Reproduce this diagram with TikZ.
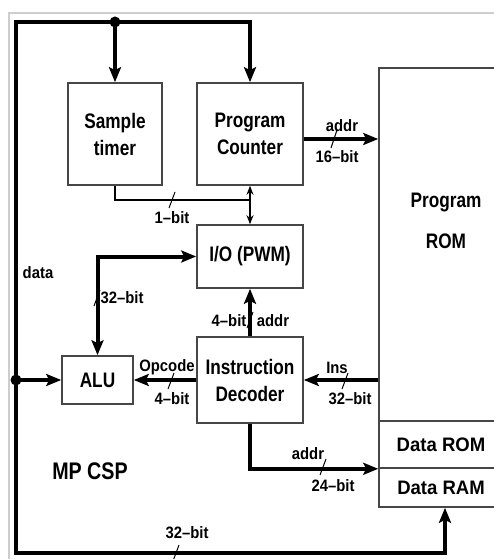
\documentclass[tikz,border=0pt]{standalone}
\usepackage{fontspec}
\setmainfont[FakeStretch=0.82]{Liberation Sans}
\newfontfamily\labelfont[FakeStretch=0.9]{Liberation Sans}
\newfontfamily\memfont[FakeStretch=0.95]{Liberation Sans}
\usetikzlibrary{arrows.meta,positioning}
\definecolor{boxgray}{RGB}{70,70,70}
\definecolor{framegray}{RGB}{205,205,205}

\begin{document}
\begin{tikzpicture}[x=1pt, y=-1pt]
\tikzstyle{block} = [rectangle, draw=boxgray, line width=1.6pt, text centered, align=center, inner sep=0pt, font=\fontsize{21}{27}\selectfont\bfseries]
\tikzstyle{memory} = [block, font=\memfont\fontsize{19.5}{23}\selectfont\bfseries]
\tikzstyle{bus} = [line width=4pt, line join=miter]
\tikzstyle{busarrow} = [bus, -{Stealth[length=15pt, width=12pt, inset=3pt]}]
\tikzstyle{wire} = [line width=1.5pt]
\tikzstyle{lbl} = [inner sep=0pt, font=\labelfont\fontsize{16.5}{19}\selectfont\bfseries]
\tikzstyle{slashmark} = [line width=1pt]
\tikzstyle{joint} = [circle, fill=black, minimum size=11pt, inner sep=0pt]

\clip (0,0) rectangle (494,559);
\draw[framegray, line width=1.2pt] (9,559) -- (9,13) -- (494,13);

% blocks
\node (SampleTimer) [block, minimum width=94pt, minimum height=102pt] at (115,134) {Sample\\timer};
\node (ProgramCounter) [block, minimum width=106pt, minimum height=102pt] at (250,134) {Program\\Counter};
\node (IOPWM) [block, minimum width=106pt, minimum height=63pt] at (250,256.5) {I/O (PWM)};
\node (Decoder) [block, minimum width=106pt, minimum height=86pt] at (250,380) {Instruction\\Decoder};
\node (ALU) [block, minimum width=71pt, minimum height=48pt] at (97.5,380) {ALU};
\node (ProgramROM) [block, minimum width=124pt, minimum height=353pt] at (441,244.5) {};
\node (ROMTop) [font=\fontsize{21}{27}\selectfont\bfseries, anchor=base] at (446,207) {Program};
\node (ROMBottom) [font=\fontsize{21}{27}\selectfont\bfseries, anchor=base] at (446,248) {ROM};
\node (DataROM) [memory, minimum width=124pt, minimum height=47pt] at (441,444.5) {Data ROM};
\node (DataRAM) [memory, minimum width=124pt, minimum height=39pt] at (441,487.5) {Data RAM};
\node (MPCSP) [font=\fontsize{24}{28}\selectfont\bfseries] at (90,471) {MP CSP};

% bus corners
\coordinate (TopDot) at (115,22);
\coordinate (LeftDot) at (16,380);
\coordinate (TopLeft) at (16,22);
\coordinate (BotLeft) at (16,553);
\coordinate (TimerJoin) at (250,200);

% wires
\draw[bus] (TopDot) -- (TopLeft) -- (LeftDot);
\draw[busarrow] (LeftDot) -- (BotLeft) -| ([xshift=4pt]DataRAM.south);
\draw[busarrow] (TopDot) -- (SampleTimer.north);
\draw[busarrow] (TopDot) -| (ProgramCounter.north);
\draw[busarrow] (LeftDot) -- (ALU.west);
\draw[busarrow] ([yshift=-5pt]ProgramCounter.east) -- ([yshift=-5pt]ProgramCounter.east -| ProgramROM.west);
\draw[wire] (SampleTimer.south) |- (TimerJoin);
\draw[wire, {Stealth[length=9pt, width=7pt]}-{Stealth[length=9pt, width=7pt]}] (ProgramCounter.south) -- (IOPWM.north);
\draw[bus, {Stealth[length=15pt, width=12pt, inset=3pt]}-{Stealth[length=15pt, width=12pt, inset=3pt]}] (ALU.north) |- (IOPWM.west);
\draw[busarrow] (Decoder.north) -- (IOPWM.south);
\draw[busarrow] (Decoder.west) -- (ALU.east);
\draw[busarrow] (Decoder.east -| ProgramROM.west) -- (Decoder.east);
\draw[busarrow] (Decoder.south) |- (DataROM.south west);

\node (TopJoint) [joint] at (TopDot) {};
\node (LeftJoint) [joint] at (LeftDot) {};

% bit widths
\draw[slashmark] (334,139) ++(-3,9) -- ++(6,-18);
\draw[slashmark] (172,200) ++(-3,8) -- ++(6,-16);
\draw[slashmark] (97,298) ++(-3,8) -- ++(6,-16);
\draw[slashmark] (250,320) ++(-3,8) -- ++(6,-16);
\draw[slashmark] (171,381) ++(-3,8) -- ++(6,-16);
\draw[slashmark] (345,381) ++(-3,8) -- ++(6,-16);
\draw[slashmark] (323,467) ++(-3,8) -- ++(6,-16);
\draw[slashmark] (176,553) ++(-3,8) -- ++(6,-16);

% labels
\node (AddrPC) [lbl] at (342,126) {addr};
\node (BitsPC) [lbl] at (337,157) {16–bit};
\node (BitsTimer) [lbl] at (172,218) {1–bit};
\node (DataLbl) [lbl] at (38,273) {data};
\node (BitsALU) [lbl] at (122,298) {32–bit};
\node (BitsIO) [lbl] at (229,321) {4–bit};
\node (AddrIO) [lbl] at (273,321) {addr};
\node (OpcodeLbl) [lbl] at (167,367) {Opcode};
\node (BitsOp) [lbl] at (172,399) {4–bit};
\node (InsLbl) [lbl] at (337,368) {Ins};
\node (BitsIns) [lbl] at (350,399) {32–bit};
\node (AddrData) [lbl] at (308,454) {addr};
\node (BitsData) [lbl] at (333,486) {24–bit};
\node (BitsBus) [lbl] at (187,533) {32–bit};
\end{tikzpicture}
\end{document}
